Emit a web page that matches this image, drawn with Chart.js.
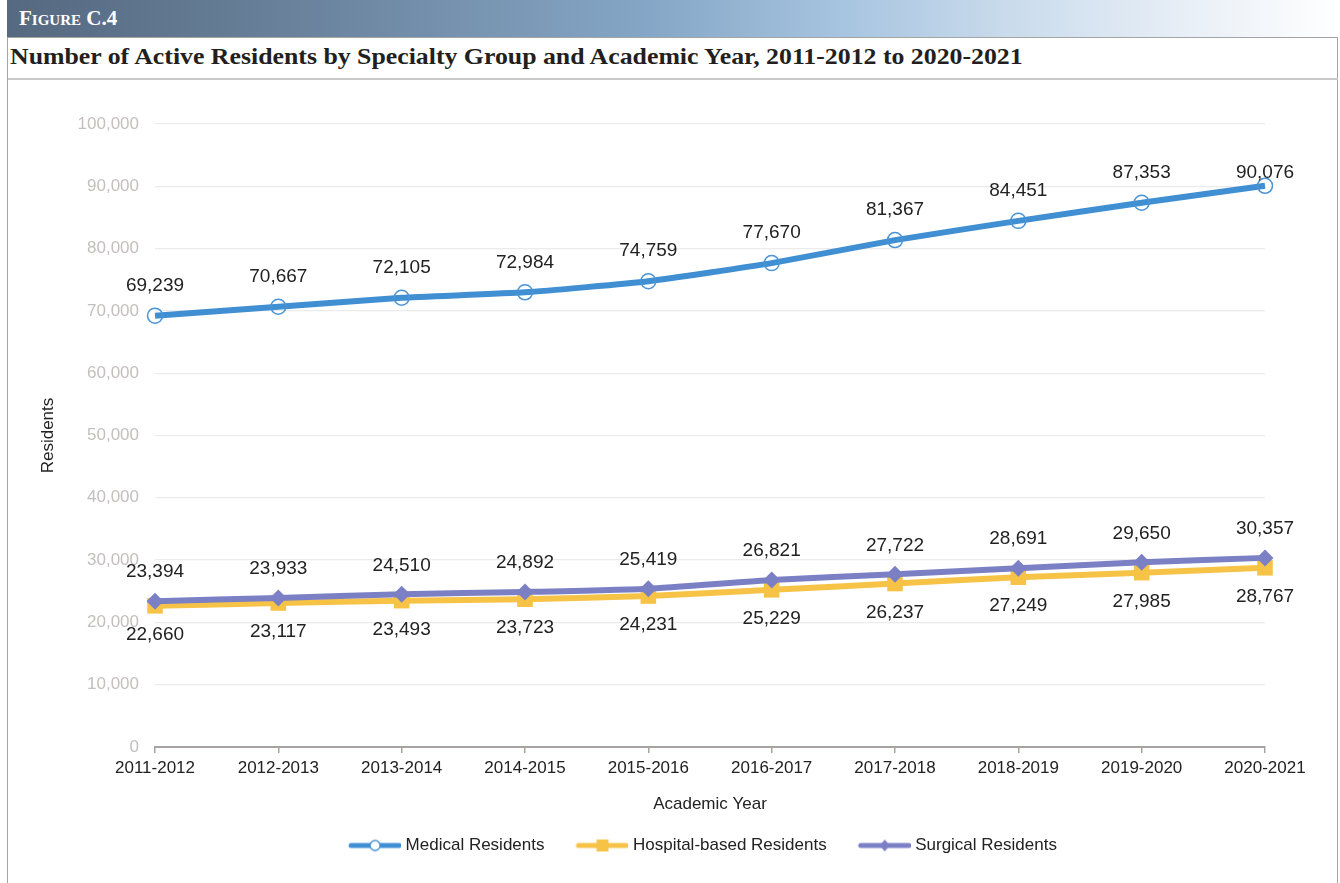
<!DOCTYPE html>
<html>
<head>
<meta charset="utf-8">
<script src="https://cdn.jsdelivr.net/npm/chart.js@4"></script>
<style>
  body { margin: 0; width: 1340px; height: 883px; background: #fff; position: relative; overflow: hidden; font-family: "Liberation Sans", Arial, sans-serif; }
  #bar { position: absolute; left: 7px; top: 0; width: 1333px; height: 37px;
    background: linear-gradient(to right, #556980 0%, #6a829c 22%, #85a6c6 48%, #a5c3df 62%, #c9dbec 75%, #e7eef6 88%, #ffffff 100%); }
  #bar span { position: absolute; left: 12px; top: 6px; color: #fff; font-family: "Liberation Serif", serif; font-weight: bold; font-size: 21px; font-variant: small-caps; }
  #frame { position: absolute; left: 7px; top: 37px; width: 1329px; height: 860px; border: 1.5px solid #a4a4a4; border-bottom: none; }
  #title { position: absolute; left: 10px; top: 43px; font-family: "Liberation Serif", serif; font-weight: bold; font-size: 24px; color: #231f20; white-space: nowrap; transform: scaleX(1.075); transform-origin: left center; }
  #rule { position: absolute; left: 8px; top: 78px; width: 1330px; height: 2px; background: #c8c8c8; }
  #wrap { position: absolute; left: 8px; top: 80px; width: 1329px; height: 803px; }
</style>
</head>
<body>
<div id="bar"><span>Figure C.4</span></div>
<div id="frame"></div>
<div id="title">Number of Active Residents by Specialty Group and Academic Year, 2011-2012 to 2020-2021</div>
<div id="rule"></div>
<div id="wrap"><canvas id="chart"></canvas></div>
<script>
const years = ["2011-2012", "2012-2013", "2013-2014", "2014-2015", "2015-2016",
               "2016-2017", "2017-2018", "2018-2019", "2019-2020", "2020-2021"];
const medical = [69239, 70667, 72105, 72984, 74759, 77670, 81367, 84451, 87353, 90076];
const hospital = [22660, 23117, 23493, 23723, 24231, 25229, 26237, 27249, 27985, 28767];
const surgical = [23394, 23933, 24510, 24892, 25419, 26821, 27722, 28691, 29650, 30357];

const fmt = v => v.toLocaleString('en-US');

// little line+marker picture for the legend
function legendIcon(color, shape) {
  const c = document.createElement('canvas');
  c.width = 78; c.height = 18;
  const g = c.getContext('2d');
  g.strokeStyle = color; g.lineWidth = 5; g.lineCap = 'round';
  g.beginPath(); g.moveTo(28, 9); g.lineTo(76, 9); g.stroke();
  g.fillStyle = color;
  if (shape == 'circle') {
    g.lineWidth = 1.3;
    g.fillStyle = '#ffffff';
    g.beginPath(); g.arc(52, 9, 5, 0, Math.PI * 2); g.fill(); g.stroke();
  } else if (shape == 'rect') {
    g.fillRect(46, 3, 12, 12);
  } else {
    g.beginPath(); g.moveTo(52, 3); g.lineTo(57, 9); g.lineTo(52, 15); g.lineTo(47, 9); g.closePath(); g.fill();
  }
  return c;
}

const valueLabels = {
  id: 'valueLabels',
  afterDatasetsDraw(chart) {
    const ctx = chart.ctx;
    const area = chart.chartArea;
    ctx.save();
    ctx.font = '19px "Liberation Sans", Arial, sans-serif';
    ctx.fillStyle = '#222';
    ctx.textAlign = 'center';
    ctx.textBaseline = 'middle';
    chart.data.datasets.forEach((ds, i) => {
      chart.getDatasetMeta(i).data.forEach((pt, j) => {
        let y = pt.y + ds.labelOffset;
        if (ds.labelOffset < 0) y = Math.max(y, area.top + 49);
        ctx.fillText(fmt(ds.data[j]), pt.x, y);
      });
    });
    ctx.restore();
  }
};

// nudge the legend so it sits where the original one does
const legendShift = {
  id: 'legendShift',
  afterLayout(chart) {
    chart.legend.left -= 18;
    chart.legend.right -= 18;
  }
};

new Chart(document.getElementById('chart'), {
  type: 'line',
  data: {
    labels: years,
    datasets: [{
      label: 'Medical Residents',
      data: medical,
      borderColor: '#3f8fd2',
      borderWidth: 6,
      tension: 0.15,
      pointStyle: 'circle',
      pointRadius: 7.5,
      pointHoverRadius: 7.5,
      pointBorderWidth: 1.5,
      pointBorderColor: '#4a93d5',
      pointBackgroundColor: 'rgba(255,255,255,0)',
      order: 0,
      labelOffset: -30,
      icon: legendIcon('#3f8fd2', 'circle')
    }, {
      label: 'Hospital-based Residents',
      data: hospital,
      borderColor: '#f6c347',
      backgroundColor: '#f6c347',
      borderWidth: 6,
      tension: 0.15,
      pointStyle: 'rect',
      pointRadius: 11,
      pointHoverRadius: 11,
      pointBorderWidth: 0,
      pointBackgroundColor: '#f6c347',
      order: 2,
      labelOffset: 29,
      icon: legendIcon('#f6c347', 'rect')
    }, {
      label: 'Surgical Residents',
      data: surgical,
      borderColor: '#7b80c5',
      backgroundColor: '#7b80c5',
      borderWidth: 6,
      tension: 0.15,
      pointStyle: 'rectRot',
      pointRadius: 8.5,
      pointHoverRadius: 8.5,
      pointBorderWidth: 0,
      pointBackgroundColor: '#7b80c5',
      order: 1,
      labelOffset: -29,
      icon: legendIcon('#7b80c5', 'diamond')
    }]
  },
  options: {
    responsive: true,
    maintainAspectRatio: false,
    animation: false,
    layout: { padding: { top: 44, right: 72, bottom: 19, left: 0 } },
    plugins: {
      tooltip: { enabled: false },
      legend: {
        position: 'bottom',
        fullSize: false,
        labels: {
          usePointStyle: true,
          pointStyleWidth: 70,
          padding: 10,
          color: '#222',
          font: { size: 17, family: '"Liberation Sans", Arial, sans-serif' },
          generateLabels: chart => chart.data.datasets.map((ds, i) => ({
            text: ds.label,
            pointStyle: ds.icon,
            fontColor: '#222',
            datasetIndex: i,
            hidden: false,
            lineWidth: 0
          }))
        }
      }
    },
    scales: {
      x: {
        offset: false,
        grid: { drawOnChartArea: false, drawTicks: true, tickLength: 6, color: '#a8a3a3', lineWidth: 1.5 },
        border: { color: '#a8a3a3', width: 2 },
        ticks: { color: '#222', font: { size: 17 }, padding: 5, maxRotation: 0, autoSkip: false },
        title: { display: true, text: 'Academic Year', color: '#222', font: { size: 17 }, padding: { top: 0, bottom: 12 } },
        afterFit: s => { s.height = 80; }
      },
      y: {
        min: 0,
        max: 100000,
        grid: { color: '#ebebeb', drawTicks: false, lineWidth: 1.2 },
        border: { display: false },
        ticks: { stepSize: 10000, color: '#c4bebe', font: { size: 17 }, padding: 16, callback: v => fmt(v) },
        title: { display: true, text: 'Residents', color: '#222', font: { size: 17 }, padding: { top: 30, bottom: 0 } },
        afterFit: s => { s.width = 147; }
      }
    }
  },
  plugins: [valueLabels, legendShift]
});
</script>
</body>
</html>
